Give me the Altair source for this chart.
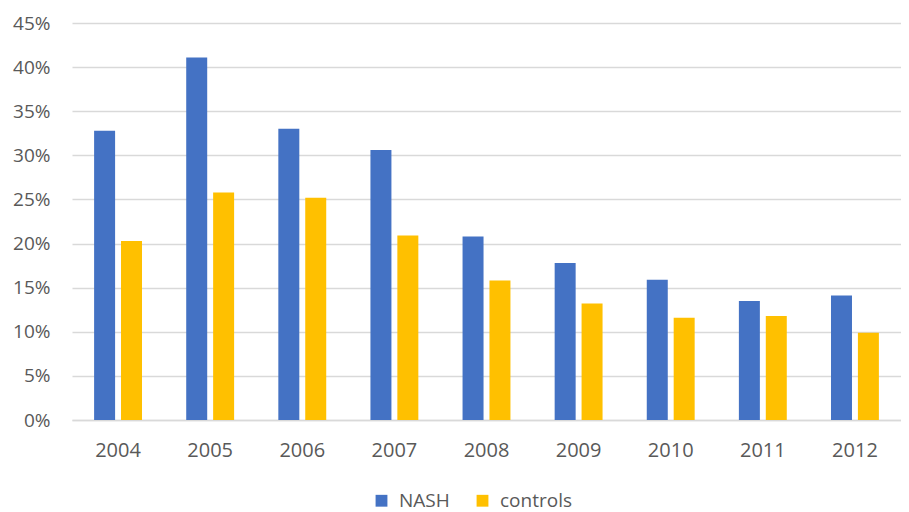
import altair as alt
import pandas as pd

years = ["2004", "2005", "2006", "2007", "2008", "2009", "2010", "2011", "2012"]
nash = [0.328, 0.411, 0.330, 0.306, 0.208, 0.178, 0.159, 0.135, 0.141]
controls = [0.203, 0.258, 0.252, 0.209, 0.158, 0.132, 0.116, 0.118, 0.099]
series = ["NASH", "controls"]
colors = ["#4472C4", "#FFC000"]
y_ticks = [0, 0.05, 0.10, 0.15, 0.20, 0.25, 0.30, 0.35, 0.40, 0.45]

rows = []
for i, yr in enumerate(years):
    rows.append({"year": yr, "series": "NASH", "value": nash[i]})
    rows.append({"year": yr, "series": "controls", "value": controls[i]})
df = pd.DataFrame(rows)

FONT = "Open Sans"
TXT = "#595959"

chart = alt.Chart(df).mark_bar().encode(
    x=alt.X("year:N", sort=years,
            scale=alt.Scale(paddingInner=0.48, paddingOuter=0.24),
            axis=alt.Axis(title=None, labelAngle=0, ticks=False, labelPadding=20,
                          domainColor="#d9d9d9", domainWidth=1.5,
                          labelFont=FONT, labelFontSize=20, labelColor=TXT)),
    xOffset=alt.XOffset("series:N", sort=series,
                        scale=alt.Scale(paddingInner=0.22, paddingOuter=0)),
    y=alt.Y("value:Q",
            scale=alt.Scale(domain=[0, 0.45], nice=False),
            axis=alt.Axis(title=None, format=".0%", values=y_ticks, ticks=False,
                          domain=False, labelPadding=22, gridColor="#d9d9d9",
                          gridWidth=1.5, labelFont=FONT, labelFontSize=19,
                          labelColor=TXT)),
    color=alt.Color("series:N", sort=series,
                    scale=alt.Scale(domain=series, range=colors),
                    legend=alt.Legend(title=None, orient="none", direction="horizontal",
                                      legendX=300, legendY=468, padding=0,
                                      symbolType="square", symbolSize=140,
                                      symbolStrokeWidth=0, labelOffset=8,
                                      columnPadding=23, labelFont=FONT,
                                      labelFontSize=19, labelColor=TXT)),
).properties(
    width=829,
    height=397,
    autosize=alt.AutoSizeParams(type="none"),
    padding={"left": 64, "top": 15, "right": 0, "bottom": 92},
).configure_view(stroke=None)

chart.save("out.html", embed_options={"renderer": "svg", "actions": False})
